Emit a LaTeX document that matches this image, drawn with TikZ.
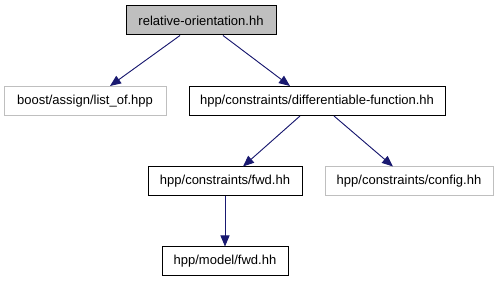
\documentclass[tikz,border=0pt]{standalone}
\usepackage{fontspec}
\setmainfont{Liberation Sans}
\usetikzlibrary{arrows.meta}
\definecolor{edgeblue}{HTML}{191970}
\definecolor{lightgrey}{HTML}{BFBFBF}
\tikzset{
  filebox/.style={draw=black, line width=1pt, fill=white, inner sep=0pt,
    minimum height=29pt, font=\fontsize{13}{15}\selectfont},
  extbox/.style={filebox, draw=lightgrey},
  rootbox/.style={filebox, fill=lightgrey},
  dep/.style={draw=edgeblue, line width=0.9pt,
    -{Triangle[length=11pt,width=9pt]}, fill=edgeblue},
}
\begin{document}
\begin{tikzpicture}[x=1pt,y=-1pt]
  \useasboundingbox (0,0) rectangle (499,283);
  \fill[white] (0,0) rectangle (499,283);

  \node[rootbox, minimum width=150pt] (rel) at (201,20.5) {relative-orientation.hh};
  \node[extbox, minimum width=162pt] (boost) at (85,101) {boost/assign/list\_of.hpp};
  \node[filebox, minimum width=256pt] (diff) at (317,101) {hpp/constraints/differentiable-function.hh};
  \node[filebox, minimum width=154pt] (cfwd) at (225,181.5) {hpp/constraints/fwd.hh};
  \node[extbox, minimum width=168pt] (config) at (409,181.5) {hpp/constraints/config.hh};
  \node[filebox, minimum width=126pt] (mfwd) at (225,261.5) {hpp/model/fwd.hh};

  \draw[dep] ([xshift=-21pt]rel.south) -- ([xshift=25pt]boost.north);
  \draw[dep] ([xshift=22pt]rel.south) -- ([xshift=-27pt]diff.north);
  \draw[dep] ([xshift=-17pt]diff.south) -- ([xshift=18pt]cfwd.north);
  \draw[dep] ([xshift=17pt]diff.south) -- ([xshift=-16pt]config.north);
  \draw[dep] (cfwd.south) -- (mfwd.north);
\end{tikzpicture}
\end{document}
